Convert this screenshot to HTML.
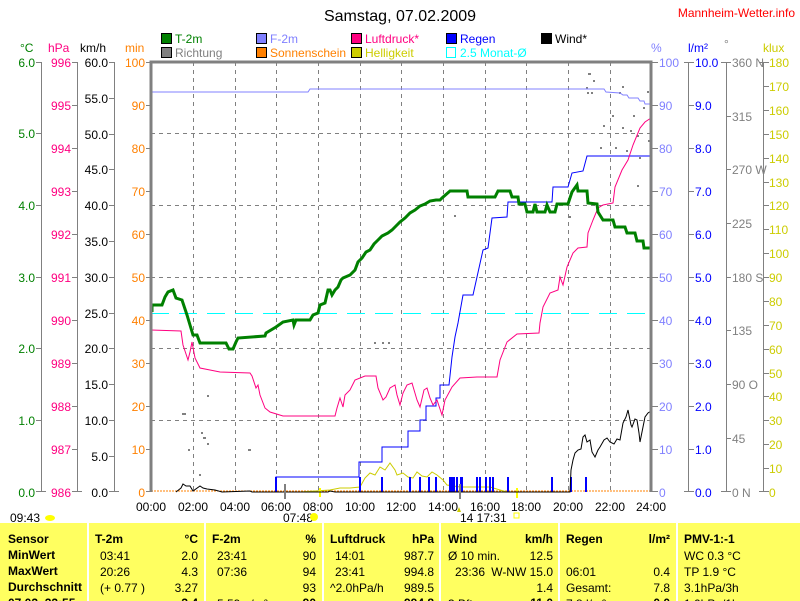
<!DOCTYPE html>
<html><head><meta charset="utf-8"><style>
body{margin:0;width:800px;height:601px;overflow:hidden;background:#fff;position:relative;font-family:"Liberation Sans",sans-serif}
svg{position:absolute;left:0;top:0}
.tb{position:absolute;top:523px;height:78px;background:#ffff60;overflow:hidden;font-size:12px}
.tb div{position:absolute;white-space:nowrap}
.b{font-weight:bold;font-size:12px}
</style></head><body>
<svg width="800" height="601" font-family="Liberation Sans, sans-serif" font-size="12">
<text x="400" y="21" font-size="16" text-anchor="middle">Samstag, 07.02.2009</text>
<text x="795" y="17" font-size="12" fill="#ff0000" text-anchor="end">Mannheim-Wetter.info</text>
<g stroke="#000" stroke-width="1">
<rect x="161.5" y="33.5" width="10" height="10" fill="#008000"/>
<rect x="256.5" y="33.5" width="10" height="10" fill="#8080ff"/>
<rect x="351.5" y="33.5" width="10" height="10" fill="#ff0080"/>
<rect x="446.5" y="33.5" width="10" height="10" fill="#0000ff"/>
<rect x="541.5" y="33.5" width="10" height="10" fill="#000"/>
<rect x="161.5" y="47.5" width="10" height="10" fill="#808080"/>
<rect x="256.5" y="47.5" width="10" height="10" fill="#ff8000"/>
<rect x="351.5" y="47.5" width="10" height="10" fill="#cccc00"/>
<rect x="446.5" y="47.5" width="9" height="10" fill="none" stroke="#00ffff"/>
</g>
<text x="175" y="43" fill="#008000">T-2m</text>
<text x="270" y="43" fill="#8080ff">F-2m</text>
<text x="365" y="43" fill="#ff0080">Luftdruck*</text>
<text x="460" y="43" fill="#0000ff">Regen</text>
<text x="555" y="43" fill="#000">Wind*</text>
<text x="175" y="57" fill="#808080">Richtung</text>
<text x="270" y="57" fill="#ff8000">Sonnenschein</text>
<text x="365" y="57" fill="#cccc00">Helligkeit</text>
<text x="460" y="57" fill="#00ffff">2.5 Monat-Ø</text>
<text x="20" y="52" fill="#008000">°C</text>
<text x="48" y="52" fill="#ff0080">hPa</text>
<text x="80" y="52" fill="#000">km/h</text>
<text x="125" y="52" fill="#ff8000">min</text>
<text x="651" y="52" fill="#8080ff">%</text>
<text x="688" y="52" fill="#0000ff">l/m²</text>
<text x="724" y="48" fill="#808080">°</text>
<text x="763" y="52" fill="#cccc00">klux</text>
<g stroke="#808080" stroke-dasharray="4,4" stroke-width="1">
<path d="M193.5 62V492M235.5 62V492M276.5 62V492M318.5 62V492M360.5 62V492M401.5 62V492M443.5 62V492M485.5 62V492M526.5 62V492M568.5 62V492M610.5 62V492"/>
<path d="M151 133.5H651M151 205.5H651M151 277.5H651M151 348.5H651M151 420.5H651"/>
</g>
<path d="M151 313.5H651" stroke="#00ffff" stroke-dasharray="18,10"/>
<g stroke="#808080" stroke-width="1" fill="none">
<path d="M41.5 62V492M36 62.5H41M36 133.5H41M36 205.5H41M36 277.5H41M36 348.5H41M36 420.5H41M36 491.5H46"/>
<path d="M77.5 62V492M72 62.5H77M72 105.5H77M72 148.5H77M72 191.5H77M72 234.5H77M72 277.5H77M72 320.5H77M72 363.5H77M72 406.5H77M72 449.5H77M72 491.5H82"/>
<path d="M114.5 62V492M109 62.5H114M109 98.5H114M109 134.5H114M109 169.5H114M109 205.5H114M109 241.5H114M109 277.5H114M109 313.5H114M109 348.5H114M109 384.5H114M109 420.5H114M109 456.5H114M109 491.5H119"/>
<path d="M146 62.5H151M146 105.5H151M146 148.5H151M146 191.5H151M146 234.5H151M146 277.5H151M146 320.5H151M146 363.5H151M146 406.5H151M146 449.5H151M146 491.5H151"/>
<path d="M652 62.5H658M652 105.5H658M652 148.5H658M652 191.5H658M652 234.5H658M652 277.5H658M652 320.5H658M652 363.5H658M652 406.5H658M652 449.5H658M652 491.5H658"/>
<path d="M688.5 62V492M684 62.5H694M688 105.5H694M688 148.5H694M688 191.5H694M688 234.5H694M688 277.5H694M688 320.5H694M688 363.5H694M688 406.5H694M688 449.5H694M684 491.5H694"/>
<path d="M726.5 62V492M721 62.5H731M726 116.5H731M726 169.5H731M726 223.5H731M726 277.5H731M726 330.5H731M726 384.5H731M726 438.5H731M721 491.5H731"/>
<path d="M763.5 62V492M759 62.5H769M763 86.5H769M763 110.5H769M763 134.5H769M763 158.5H769M763 182.5H769M763 205.5H769M763 229.5H769M763 253.5H769M763 277.5H769M763 301.5H769M763 325.5H769M763 349.5H769M763 373.5H769M763 396.5H769M763 420.5H769M763 444.5H769M763 468.5H769M759 491.5H769"/>
</g>
<g text-anchor="end" fill="#008000">
<text x="35" y="67">6.0</text><text x="35" y="138">5.0</text><text x="35" y="210">4.0</text><text x="35" y="282">3.0</text><text x="35" y="353">2.0</text><text x="35" y="425">1.0</text><text x="35" y="497">0.0</text></g>
<g text-anchor="end" fill="#ff0080">
<text x="71" y="67">996</text><text x="71" y="110">995</text><text x="71" y="153">994</text><text x="71" y="196">993</text><text x="71" y="239">992</text><text x="71" y="282">991</text><text x="71" y="325">990</text><text x="71" y="368">989</text><text x="71" y="411">988</text><text x="71" y="454">987</text><text x="71" y="497">986</text></g>
<g text-anchor="end" fill="#000">
<text x="108" y="67">60.0</text><text x="108" y="103">55.0</text><text x="108" y="139">50.0</text><text x="108" y="174">45.0</text><text x="108" y="210">40.0</text><text x="108" y="246">35.0</text><text x="108" y="282">30.0</text><text x="108" y="318">25.0</text><text x="108" y="353">20.0</text><text x="108" y="389">15.0</text><text x="108" y="425">10.0</text><text x="108" y="461">5.0</text><text x="108" y="497">0.0</text></g>
<g text-anchor="end" fill="#ff8000">
<text x="145" y="67">100</text><text x="145" y="110">90</text><text x="145" y="153">80</text><text x="145" y="196">70</text><text x="145" y="239">60</text><text x="145" y="282">50</text><text x="145" y="325">40</text><text x="145" y="368">30</text><text x="145" y="411">20</text><text x="145" y="454">10</text><text x="145" y="497">0</text></g>
<g fill="#8080ff">
<text x="659" y="67">100</text><text x="659" y="110">90</text><text x="659" y="153">80</text><text x="659" y="196">70</text><text x="659" y="239">60</text><text x="659" y="282">50</text><text x="659" y="325">40</text><text x="659" y="368">30</text><text x="659" y="411">20</text><text x="659" y="454">10</text><text x="659" y="497">0</text></g>
<g fill="#0000ff">
<text x="695" y="67">10.0</text><text x="695" y="110">9.0</text><text x="695" y="153">8.0</text><text x="695" y="196">7.0</text><text x="695" y="239">6.0</text><text x="695" y="282">5.0</text><text x="695" y="325">4.0</text><text x="695" y="368">3.0</text><text x="695" y="411">2.0</text><text x="695" y="454">1.0</text><text x="695" y="497">0.0</text></g>
<g fill="#808080">
<text x="732" y="67">360 N</text><text x="732" y="121">315</text><text x="732" y="174">270 W</text><text x="732" y="228">225</text><text x="732" y="282">180 S</text><text x="732" y="335">135</text><text x="732" y="389">90  O</text><text x="732" y="443">45</text><text x="732" y="497">0   N</text></g>
<g fill="#cccc00">
<text x="769" y="67">180</text><text x="769" y="91">170</text><text x="769" y="115">160</text><text x="769" y="139">150</text><text x="769" y="163">140</text><text x="769" y="187">130</text><text x="769" y="210">120</text><text x="769" y="234">110</text><text x="769" y="258">100</text><text x="769" y="282">90</text><text x="769" y="306">80</text><text x="769" y="330">70</text><text x="769" y="354">60</text><text x="769" y="378">50</text><text x="769" y="401">40</text><text x="769" y="425">30</text><text x="769" y="449">20</text><text x="769" y="473">10</text><text x="769" y="497">0</text></g>
<g text-anchor="middle" fill="#000">
<text x="151" y="511">00:00</text><text x="193" y="511">02:00</text><text x="235" y="511">04:00</text><text x="276" y="511">06:00</text><text x="318" y="511">08:00</text><text x="360" y="511">10:00</text><text x="401" y="511">12:00</text><text x="443" y="511">14:00</text><text x="485" y="511">16:00</text><text x="526" y="511">18:00</text><text x="568" y="511">20:00</text><text x="610" y="511">22:00</text><text x="651" y="511">24:00</text></g>
<text x="10" y="522">09:43</text><ellipse cx="50" cy="518" rx="5" ry="3" fill="#ffff00"/>
<text x="283" y="522">07:48</text><circle cx="314" cy="517" r="4" fill="#ffff00"/>
<text x="460" y="522">14 17:31</text><rect x="514" y="513" width="5" height="5" fill="none" stroke="#ffff00"/>
<path d="M457 512l2-5 2 5z" fill="#cccc00"/>
<g fill="#808080">
<rect x="182" y="413" width="4" height="2"/><rect x="207" y="395" width="2" height="2"/><rect x="201" y="432" width="2" height="2"/><rect x="203" y="437" width="3" height="2"/><rect x="207" y="443" width="2" height="2"/><rect x="188" y="449" width="2" height="2"/><rect x="248" y="449" width="3" height="2"/><rect x="199" y="474" width="2" height="2"/><rect x="374" y="342" width="2" height="2"/><rect x="382" y="342" width="2" height="2"/><rect x="388" y="342" width="2" height="2"/><rect x="454" y="215" width="2" height="2"/><rect x="569" y="216" width="2" height="2"/>
<rect x="588" y="73" width="3" height="2"/><rect x="593" y="80" width="2" height="2"/><rect x="586" y="87" width="2" height="2"/><rect x="587" y="92" width="2" height="2"/><rect x="591" y="92" width="2" height="2"/><rect x="622" y="86" width="2" height="2"/><rect x="619" y="92" width="2" height="2"/><rect x="647" y="91" width="2" height="2"/><rect x="612" y="115" width="2" height="2"/><rect x="633" y="115" width="2" height="2"/><rect x="643" y="107" width="2" height="2"/><rect x="603" y="125" width="2" height="2"/><rect x="622" y="127" width="2" height="2"/><rect x="630" y="130" width="2" height="2"/><rect x="637" y="135" width="2" height="2"/><rect x="600" y="147" width="2" height="2"/><rect x="615" y="147" width="2" height="2"/><rect x="626" y="150" width="2" height="2"/><rect x="637" y="185" width="2" height="2"/><rect x="639" y="157" width="2" height="2"/><rect x="648" y="140" width="2" height="2"/>
</g>
<polyline fill="none" stroke="#8080ff" points="151,92 308,92 310,89 604,89 606,92 620,93 623,95 627,95 629,98 638,98 640,101 644,101 645,104 651,104"/>
<path d="M151 491H651" stroke="#ff8000" stroke-dasharray="2,1"/>
<polyline fill="none" stroke="#cccc00" points="300,492 330,490 340,488 350,488 360,487 365,478 370,473 375,475 380,467 385,470 390,463 395,470 397,475 403,473 408,477 413,478 417,472 422,476 427,477 432,472 437,475 443,480 447,485 460,487 473,487 490,487 500,490 507,492"/>
<rect x="319" y="488" width="2" height="9" fill="#ffff00"/>
<rect x="516" y="488" width="2" height="10" fill="#ffff00"/>
<polyline fill="none" stroke="#0000ff" points="276,492 276,477 359,477 359,462 382,462 382,447 408,447 408,431 420,431 420,420 426,420 426,406 436,406 436,398 440,398 440,385 449,385 452,357 455,337 458,323 463,295 473,295 477,277 483,250 488,248 492,218 507,217 508,202 552,202 553,187 568,187 572,173 583,171 587,156 651,156"/>
<g fill="#0000ff">
<rect x="275" y="477" width="2" height="15"/><rect x="359" y="477" width="2" height="15"/><rect x="381" y="477" width="2" height="15"/><rect x="409" y="477" width="2" height="15"/><rect x="419" y="477" width="2" height="15"/><rect x="428" y="477" width="2" height="15"/><rect x="435" y="477" width="2" height="15"/><rect x="449" y="477" width="6" height="15"/><rect x="456" y="477" width="2" height="15"/><rect x="460" y="477" width="3" height="15"/><rect x="476" y="477" width="2" height="15"/><rect x="479" y="477" width="2" height="15"/><rect x="485" y="477" width="2" height="15"/><rect x="489" y="477" width="2" height="15"/><rect x="492" y="477" width="2" height="15"/><rect x="507" y="477" width="2" height="15"/><rect x="551" y="477" width="2" height="15"/><rect x="570" y="477" width="2" height="15"/><rect x="585" y="477" width="2" height="15"/></g>
<polyline fill="none" stroke="#ff0080" points="151,330 181,331 183,345 188,360 190,352 192,342 195,358 200,368 210,370 220,372 250,373 252,376 256,388 258,385 260,395 265,408 270,412 283,416 335,416 337,408 340,398 343,407 345,395 350,390 355,380 365,376 376,376 378,388 383,400 386,397 390,388 395,385 397,395 400,405 403,393 407,385 412,383 417,400 420,407 424,390 427,388 430,398 433,405 437,400 440,409 442,415 445,400 452,387 460,378 477,377 497,377 500,360 507,342 517,334 539,333 540,323 543,307 550,293 558,290 560,277 563,285 567,267 573,253 578,248 587,247 588,233 593,220 598,208 603,205 613,203 615,187 622,170 628,160 633,145 640,128 645,122 651,118"/>
<polyline fill="none" stroke="#000" points="176,492 181,488 183,484 186,486 190,486 193,491 200,486 203,488 207,489 215,490 222,492 250,491 252,492 328,492 330,491 335,492 570,492 571,470 573,460 575,453 578,450 581,449 583,437 585,435 587,442 590,440 592,452 595,457 598,450 600,447 604,440 607,438 610,442 614,444 617,439 620,440 623,423 626,417 628,410 631,425 632,427 635,419 637,420 639,433 640,442 643,427 645,417 648,413 651,411"/>
<polyline fill="none" stroke="#008000" stroke-width="3" points="152,312 152,305 162,305 165,297 168,292 173,290 176,298 182,300 187,315 190,325 193,335 197,335 200,343 207,343 226,343 229,349 233,349 236,342 238,338 265,336 266,333 276,327 283,322 293,320 294,325 296,320 310,320 313,315 318,313 320,305 325,303 328,290 330,290 332,295 335,290 338,287 341,280 343,278 350,275 355,270 358,262 362,258 366,252 370,250 374,244 378,240 382,236 388,233 392,230 396,226 400,222 405,218 410,213 415,210 420,206 425,204 430,201 436,200 440,200 442,198 450,191 467,191 468,197 495,197 498,191 510,191 512,197 518,197 519,204 525,204 527,212 533,212 535,204 537,212 545,212 547,205 550,212 555,212 557,204 568,204 572,192 577,185 578,191 587,191 588,203 597,204 598,212 603,220 613,220 615,227 625,227 627,233 635,233 637,241 643,241 644,248 651,248"/>
<path d="M151 492V62H651V492" fill="none" stroke="#808080" stroke-width="3"/>
<rect x="284" y="484" width="2" height="15" fill="#808080"/>
<rect x="459" y="484" width="2" height="15" fill="#808080"/>
</svg>
<div class="tb" style="left:0;width:87px"><div class="b" style="left:8px;top:9px">Sensor</div><div class="b" style="left:8px;top:25px">MinWert</div><div class="b" style="left:8px;top:41px">MaxWert</div><div class="b" style="left:8px;top:57px">Durchschnitt</div><div class="b" style="left:8px;top:73px">07.02. 22:55</div></div>
<div class="tb" style="left:89px;width:115px"><div class="b" style="left:6px;top:9px">T-2m</div><div class="b" style="right:6px;top:9px">°C</div><div style="left:11px;top:26px">03:41</div><div style="right:6px;top:26px">2.0</div><div style="left:11px;top:42px">20:26</div><div style="right:6px;top:42px">4.3</div><div style="left:11px;top:58px">(+ 0.77 )</div><div style="right:6px;top:58px">3.27</div><div class="b" style="right:6px;top:73px">3.4</div></div>
<div class="tb" style="left:206px;width:116px"><div class="b" style="left:6px;top:9px">F-2m</div><div class="b" style="right:6px;top:9px">%</div><div style="left:11px;top:26px">23:41</div><div style="right:6px;top:26px">90</div><div style="left:11px;top:42px">07:36</div><div style="right:6px;top:42px">94</div><div style="right:6px;top:58px">93</div><div style="left:11px;top:74px">5.59 g/m³</div><div class="b" style="right:6px;top:73px">90</div></div>
<div class="tb" style="left:324px;width:115px"><div class="b" style="left:6px;top:9px">Luftdruck</div><div class="b" style="right:5px;top:9px">hPa</div><div style="left:11px;top:26px">14:01</div><div style="right:5px;top:26px">987.7</div><div style="left:11px;top:42px">23:41</div><div style="right:5px;top:42px">994.8</div><div style="left:6px;top:58px">^2.0hPa/h</div><div style="right:5px;top:58px">989.5</div><div class="b" style="right:5px;top:73px">994.8</div></div>
<div class="tb" style="left:441px;width:117px"><div class="b" style="left:7px;top:9px">Wind</div><div class="b" style="right:5px;top:9px">km/h</div><div style="left:7px;top:26px">Ø 10 min.</div><div style="right:5px;top:26px">12.5</div><div style="left:14px;top:42px">23:36</div><div style="right:5px;top:42px">W-NW 15.0</div><div style="right:5px;top:58px">1.4</div><div style="left:7px;top:74px">3 Bft</div><div class="b" style="right:5px;top:73px">11.0</div></div>
<div class="tb" style="left:560px;width:116px"><div class="b" style="left:6px;top:9px">Regen</div><div class="b" style="right:6px;top:9px">l/m²</div><div style="left:6px;top:42px">06:01</div><div style="right:6px;top:42px">0.4</div><div style="left:6px;top:58px">Gesamt:</div><div style="right:6px;top:58px">7.8</div><div style="left:6px;top:74px">7.8 l/m²</div><div class="b" style="right:6px;top:73px">0.0</div></div>
<div class="tb" style="left:678px;width:122px"><div class="b" style="left:6px;top:9px">PMV-1:-1</div><div style="left:6px;top:26px">WC 0.3 °C</div><div style="left:6px;top:42px">TP 1.9 °C</div><div style="left:6px;top:58px">3.1hPa/3h</div><div style="left:6px;top:74px">1.0hPa/1h</div></div>
</body></html>
